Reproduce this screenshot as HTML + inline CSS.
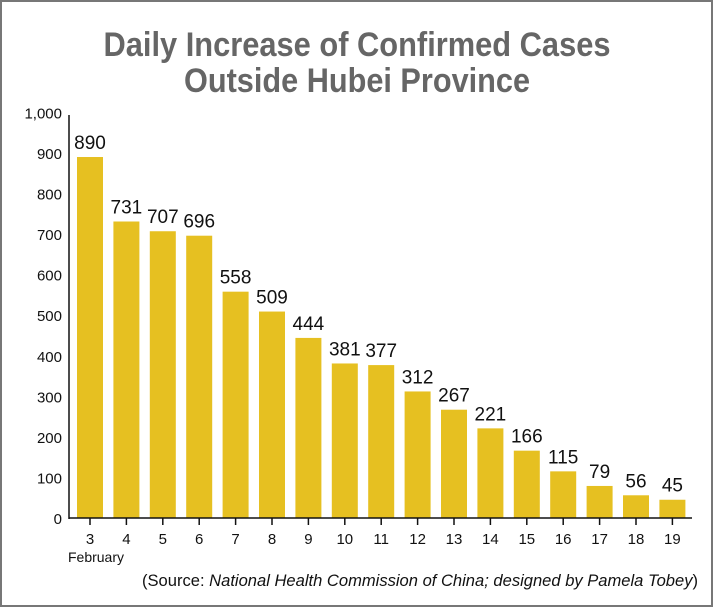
<!DOCTYPE html>
<html><head><meta charset="utf-8"><style>
html,body{margin:0;padding:0;background:#fff;}
svg{display:block;font-family:"Liberation Sans",sans-serif;}
</style></head><body>
<svg id="chart" width="713" height="607">
<rect x="1" y="1" width="711" height="605" fill="#fff" stroke="#777" stroke-width="2"/>
<text x="357" y="56" text-anchor="middle" font-size="34" font-weight="bold" fill="#666" textLength="507" lengthAdjust="spacingAndGlyphs">Daily Increase of Confirmed Cases</text>
<text x="357" y="92" text-anchor="middle" font-size="34" font-weight="bold" fill="#666" textLength="346" lengthAdjust="spacingAndGlyphs">Outside Hubei Province</text>
<g id="plot"></g>
<text x="698" y="586" text-anchor="end" font-size="17" fill="#111" textLength="556" lengthAdjust="spacingAndGlyphs">(Source: <tspan font-style="italic">National Health Commission of China; designed by Pamela Tobey</tspan>)</text>
</svg>
<script>
const categories=["3","4","5","6","7","8","9","10","11","12","13","14","15","16","17","18","19"];
const values=[890,731,707,696,558,509,444,381,377,312,267,221,166,115,79,56,45];
const yTicks=[0,100,200,300,400,500,600,700,800,900,1000];
const yTickLabels=["0","100","200","300","400","500","600","700","800","900","1,000"];
const NS="http://www.w3.org/2000/svg";
const g=document.getElementById('plot');
const x0=69,base=518,step=36.4,bw=26;
function y(v){return base-v*0.4056;}
function xc(i){return 90+i*step;}
function mk(t,a,txt){const e=document.createElementNS(NS,t);for(const k in a)e.setAttribute(k,a[k]);if(txt!==undefined)e.textContent=txt;g.appendChild(e);return e;}
yTicks.forEach((v,i)=>{
 const t=mk('text',{x:x0-7,y:y(v)+6,'text-anchor':'end','font-size':'15',fill:'#111'},yTickLabels[i]);
 
 
});
categories.forEach((c,i)=>{
 const r=mk('rect',{x:xc(i)-bw/2,y:y(values[i]),width:bw,height:base-y(values[i]),fill:'#e6c021'});
 
 
 const l=mk('text',{x:xc(i),y:y(values[i])-8,'text-anchor':'middle','font-size':'19',fill:'#111'},String(values[i]));
 
 
 const tk=mk('line',{x1:xc(i),x2:xc(i),y1:base,y2:base+7,stroke:'#111','stroke-width':'1.5'});
 
 
 const tl=mk('text',{x:xc(i),y:base+26,'text-anchor':'middle','font-size':'15',fill:'#111'},c);
 
 
});
const ax=mk('line',{x1:x0,x2:x0,y1:115,y2:base+1,stroke:'#111','stroke-width':'1.5'});


const bx=mk('line',{x1:x0,x2:692,y1:base,y2:base,stroke:'#111','stroke-width':'1.5'});


const fb=mk('text',{x:96,y:base+44,'text-anchor':'middle','font-size':'14',fill:'#111'},'February');


</script>
</body></html>
